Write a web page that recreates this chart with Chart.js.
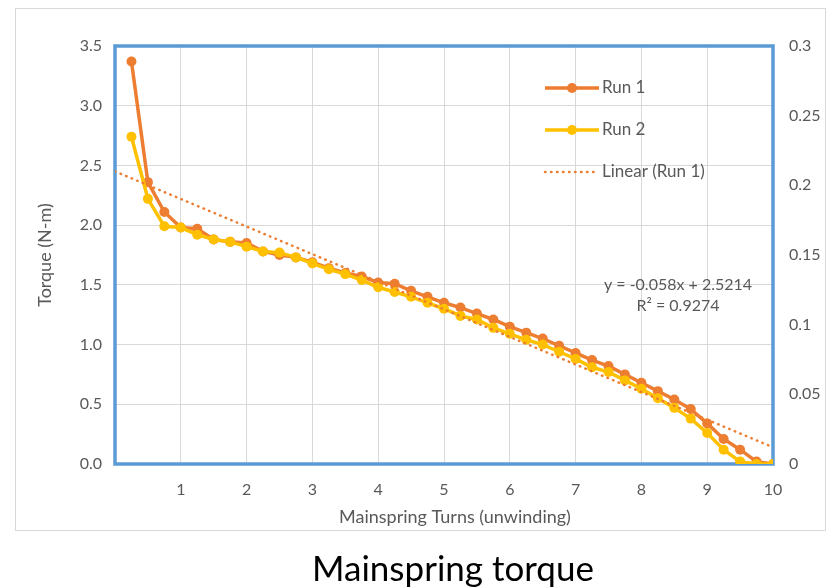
<!DOCTYPE html>
<html>
<head>
<meta charset="utf-8">
<script src="https://cdn.jsdelivr.net/npm/chart.js@4/dist/chart.umd.min.js"></script>
<style>
  html, body { margin: 0; padding: 0; background: #fff; }
  #wrap { width: 834px; height: 588px; }
</style>
</head>
<body>
<div id="wrap"><canvas id="torqueChart" width="834" height="588"></canvas></div>
<script>
// turns of the mainspring (unwinding)
const turns = [0.25, 0.5, 0.75, 1, 1.25, 1.5, 1.75, 2, 2.25, 2.5, 2.75, 3, 3.25, 3.5, 3.75, 4,
    4.25, 4.5, 4.75, 5, 5.25, 5.5, 5.75, 6, 6.25, 6.5, 6.75, 7, 7.25, 7.5, 7.75, 8,
    8.25, 8.5, 8.75, 9, 9.25, 9.5, 9.75, 10];

const run1 = [3.37, 2.36, 2.11, 1.98, 1.97, 1.88, 1.86, 1.85, 1.78, 1.75, 1.73, 1.69, 1.64, 1.60, 1.57, 1.52,
    1.51, 1.45, 1.40, 1.35, 1.31, 1.26, 1.21, 1.15, 1.10, 1.05, 0.99, 0.93, 0.87, 0.82, 0.75, 0.68,
    0.61, 0.54, 0.46, 0.34, 0.21, 0.12, 0.02, 0.0];

const run2 = [2.74, 2.22, 1.99, 1.98, 1.92, 1.88, 1.86, 1.82, 1.78, 1.77, 1.73, 1.68, 1.63, 1.59, 1.54, 1.48,
    1.44, 1.40, 1.35, 1.30, 1.24, 1.21, 1.14, 1.09, 1.04, 1.00, 0.94, 0.88, 0.81, 0.77, 0.70, 0.63,
    0.55, 0.47, 0.38, 0.26, 0.12, 0.02, 0.0, 0.0];

// trendline end points as they show on the chart
const trendX = [0, 10];
const trendY = [2.45, 0.14];

const trendText = ['y = -0.058x + 2.5214', 'R\u00B2 = 0.9274'];

const textColor = '#595959';
const gridColor = '#d9d9d9';
const fontFamily = 'Lato, "Open Sans", sans-serif';

function toXY(xs, ys) {
    return xs.map((x, i) => ({ x: x, y: ys[i] }));
}

const data = {
    datasets: [
        {
            label: 'Run 1',
            data: toXY(turns, run1),
            borderColor: '#ED7D31',
            backgroundColor: '#ED7D31',
            borderWidth: 3.5,
            pointRadius: 5,
            pointHoverRadius: 5,
            pointBorderWidth: 0,
            order: 2
        },
        {
            label: 'Run 2',
            data: toXY(turns, run2),
            borderColor: '#FFC000',
            backgroundColor: '#FFC000',
            borderWidth: 3.5,
            pointRadius: 5,
            pointHoverRadius: 5,
            pointBorderWidth: 0,
            order: 1
        },
        {
            label: 'Linear (Run 1)',
            data: toXY(trendX, trendY),
            borderColor: '#ED7D31',
            backgroundColor: '#ED7D31',
            borderWidth: 2.5,
            borderDash: [0.5, 5.5],
            borderCapStyle: 'round',
            pointRadius: 0,
            order: 0
        }
    ]
};

// blue frame round the plot area, drawn under the lines
const plotFrame = {
    id: 'plotFrame',
    beforeDatasetsDraw: (chart) => {
        const {ctx, chartArea: {left, top, right, bottom}} = chart;
        ctx.save();
        ctx.strokeStyle = '#5B9BD5';
        ctx.lineWidth = 3.5;
        ctx.strokeRect(left, top, right - left, bottom - top);
        ctx.restore();
    }
};

// outer border, axis titles, legend, equation and caption
const decorations = {
    id: 'decorations',
    beforeDraw: (chart) => {
        const {ctx} = chart;
        ctx.save();
        ctx.strokeStyle = gridColor;
        ctx.lineWidth = 1;
        ctx.strokeRect(15.5, 8.5, 810, 522);
        ctx.restore();
    },
    afterDraw: (chart) => {
        const {ctx, chartArea: {top, bottom}} = chart;
        ctx.save();
        ctx.fillStyle = textColor;
        ctx.font = '18px ' + fontFamily;
        ctx.textAlign = 'center';
        ctx.textBaseline = 'middle';
        ctx.fillText('Mainspring Turns (unwinding)', 455, 517);

        ctx.save();
        ctx.translate(45, (top + bottom) / 2);
        ctx.rotate(-Math.PI / 2);
        ctx.fillText('Torque (N-m)', 0, 0);
        ctx.restore();

        // legend inside the plot area
        const legendY = [88, 130, 172];
        chart.data.datasets.forEach((ds, i) => {
            const y = legendY[i];
            ctx.save();
            ctx.strokeStyle = ds.borderColor;
            ctx.lineWidth = ds.borderWidth;
            ctx.lineCap = i === 2 ? 'round' : 'butt';
            if (i === 2) ctx.setLineDash(ds.borderDash);
            ctx.beginPath();
            ctx.moveTo(545, y);
            ctx.lineTo(599, y);
            ctx.stroke();
            if (i < 2) {
                ctx.fillStyle = ds.backgroundColor;
                ctx.beginPath();
                ctx.arc(572, y, 5, 0, Math.PI * 2);
                ctx.fill();
            }
            ctx.restore();
            ctx.fillStyle = textColor;
            ctx.font = '17px ' + fontFamily;
            ctx.textAlign = 'left';
            ctx.fillText(ds.label, 602, y);
        });

        // trendline equation
        ctx.font = '16px ' + fontFamily;
        ctx.textAlign = 'center';
        ctx.fillText(trendText[0], 678, 285);
        ctx.fillText(trendText[1], 678, 306);

        // caption under the chart
        ctx.fillStyle = '#000';
        ctx.font = '35px ' + fontFamily;
        ctx.fillText('Mainspring torque', 453, 570);
        ctx.restore();
    }
};

const tickFont = { family: fontFamily, size: 16 };

const options = {
    responsive: false,
    animation: false,
    layout: {
        padding: { top: 46, left: 0, right: 0, bottom: 0 }
    },
    plugins: {
        legend: { display: false },
        tooltip: { enabled: false }
    },
    scales: {
        x: {
            type: 'linear',
            min: 0,
            max: 10,
            afterFit: (scale) => { scale.height = 124; },
            border: { display: false },
            grid: { color: gridColor, drawTicks: false, lineWidth: 1 },
            ticks: {
                stepSize: 1,
                padding: 16,
                color: textColor,
                font: tickFont,
                callback: (v) => v === 0 ? '' : v
            }
        },
        y: {
            min: 0,
            max: 3.5,
            afterFit: (scale) => { scale.width = 115; },
            border: { display: false },
            grid: { color: gridColor, drawTicks: false, lineWidth: 1 },
            ticks: {
                stepSize: 0.5,
                padding: 13,
                color: textColor,
                font: tickFont,
                callback: (v) => v.toFixed(1)
            }
        },
        y2: {
            position: 'right',
            min: 0,
            max: 0.3,
            afterFit: (scale) => { scale.width = 61; },
            border: { display: false },
            grid: { display: false, drawTicks: false },
            ticks: {
                stepSize: 0.05,
                padding: 16,
                color: textColor,
                font: tickFont,
                callback: (v) => String(Number(v.toFixed(2)))
            }
        }
    }
};

let ctx = document.getElementById('torqueChart').getContext('2d');

let torqueChart = new Chart(ctx, {
    type: 'line',
    data: data,
    options: options,
    plugins: [plotFrame, decorations]
});
</script>
</body>
</html>
